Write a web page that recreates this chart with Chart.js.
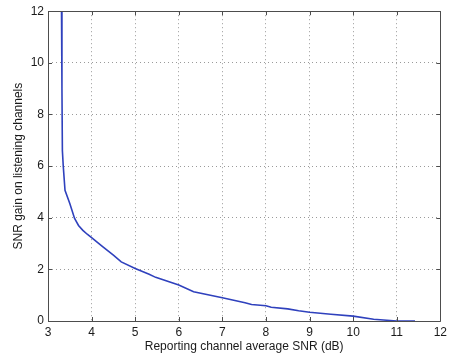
<!DOCTYPE html>
<html lang="en">
<head>
    <meta charset="UTF-8">
    <title>SNR gain vs reporting channel SNR</title>
    <script src="https://cdn.jsdelivr.net/npm/chart.js@4.4.4/dist/chart.umd.min.js"></script>
    <style>
        html, body {
            margin: 0;
            padding: 0;
            background: #ffffff;
        }
        #chart-container {
            width: 451px;
            height: 356px;
        }
    </style>
</head>
<body>
    <div id="chart-container">
        <canvas id="gain-chart"></canvas>
    </div>

    <script>
        // Curve (x: reporting channel SNR in dB, y: gain)
        const snrValues = [3.31, 3.32, 3.33, 3.35, 3.39, 3.5, 3.61, 3.7, 3.8, 3.9, 4.0, 4.26, 4.5, 4.68, 5.0, 5.32, 5.47,
                           6.0, 6.34, 7.0, 7.52, 7.67, 8.0, 8.12, 8.5, 8.75, 9.0, 9.49, 10.0, 10.47, 11.0, 11.42];
        const gainValues = [12, 9, 6.6, 6.0, 5.06, 4.55, 3.97, 3.70, 3.51, 3.36, 3.23, 2.87, 2.55, 2.29, 2.03, 1.81, 1.69,
                            1.39, 1.13, 0.90, 0.71, 0.64, 0.59, 0.53, 0.47, 0.40, 0.34, 0.26, 0.19, 0.07, 0.0, 0.0];
        const xTicks = [3, 4, 5, 6, 7, 8, 9, 10, 11, 12];
        const yTicks = [0, 2, 4, 6, 8, 10, 12];

        const points = snrValues.map((x, i) => ({ x: x, y: gainValues[i] }));

        // matlab-like box with inward ticks on every side
        const boxPlugin = {
            id: 'box',
            afterDraw(chart) {
                const { ctx, chartArea: a, scales } = chart;
                const len = 4;
                ctx.save();
                ctx.strokeStyle = '#4d4d4d';
                ctx.lineWidth = 1;
                ctx.beginPath();
                ctx.rect(Math.round(a.left) + 0.5, Math.round(a.top) + 0.5,
                         Math.round(a.right - a.left), Math.round(a.bottom - a.top));
                xTicks.forEach(v => {
                    const px = Math.round(scales.x.getPixelForValue(v)) + 0.5;
                    ctx.moveTo(px, a.bottom);
                    ctx.lineTo(px, a.bottom - len);
                    ctx.moveTo(px, a.top);
                    ctx.lineTo(px, a.top + len);
                });
                yTicks.forEach(v => {
                    const py = Math.round(scales.y.getPixelForValue(v)) + 0.5;
                    ctx.moveTo(a.left, py);
                    ctx.lineTo(a.left + len, py);
                    ctx.moveTo(a.right, py);
                    ctx.lineTo(a.right - len, py);
                });
                ctx.stroke();
                ctx.restore();
            }
        };

        const fontFamily = '"Liberation Sans", Arial, sans-serif';

        new Chart(document.getElementById('gain-chart'), {
            type: 'scatter',
            data: {
                datasets: [{
                    data: points,
                    showLine: true,
                    borderColor: '#2f41bd',
                    borderWidth: 1.6,
                    pointRadius: 0,
                    tension: 0,
                    fill: false
                }]
            },
            options: {
                responsive: true,
                maintainAspectRatio: false,
                animation: false,
                layout: { padding: { top: 10, right: 8, left: 0, bottom: 0 } },
                plugins: {
                    legend: { display: false },
                    tooltip: { enabled: false }
                },
                scales: {
                    x: {
                        type: 'linear',
                        min: 3,
                        max: 12,
                        afterFit(s) { s.height = 35; },
                        afterBuildTicks(s) { s.ticks = xTicks.map(v => ({ value: v })); },
                        ticks: {
                            padding: 4,
                            color: '#1a1a1a',
                            font: { family: fontFamily, size: 12 },
                            maxRotation: 0
                        },
                        grid: { color: '#9a9a9a', lineWidth: 1, drawTicks: false },
                        border: { display: false, dash: [1, 3] },
                        title: {
                            display: true,
                            text: 'Reporting channel average SNR (dB)',
                            color: '#1a1a1a',
                            font: { family: fontFamily, size: 12 },
                            padding: { top: 0, bottom: 2 }
                        }
                    },
                    y: {
                        type: 'linear',
                        min: 0,
                        max: 12,
                        afterFit(s) { s.width = 48; },
                        afterBuildTicks(s) { s.ticks = yTicks.map(v => ({ value: v })); },
                        ticks: {
                            padding: 4,
                            color: '#1a1a1a',
                            font: { family: fontFamily, size: 12 }
                        },
                        grid: { color: '#9a9a9a', lineWidth: 1, drawTicks: false },
                        border: { display: false, dash: [1, 3] },
                        title: {
                            display: true,
                            text: 'SNR gain on listening channels',
                            color: '#1a1a1a',
                            font: { family: fontFamily, size: 12 },
                            padding: { top: 11, bottom: 0 }
                        }
                    }
                }
            },
            plugins: [boxPlugin]
        });
    </script>
</body>
</html>
